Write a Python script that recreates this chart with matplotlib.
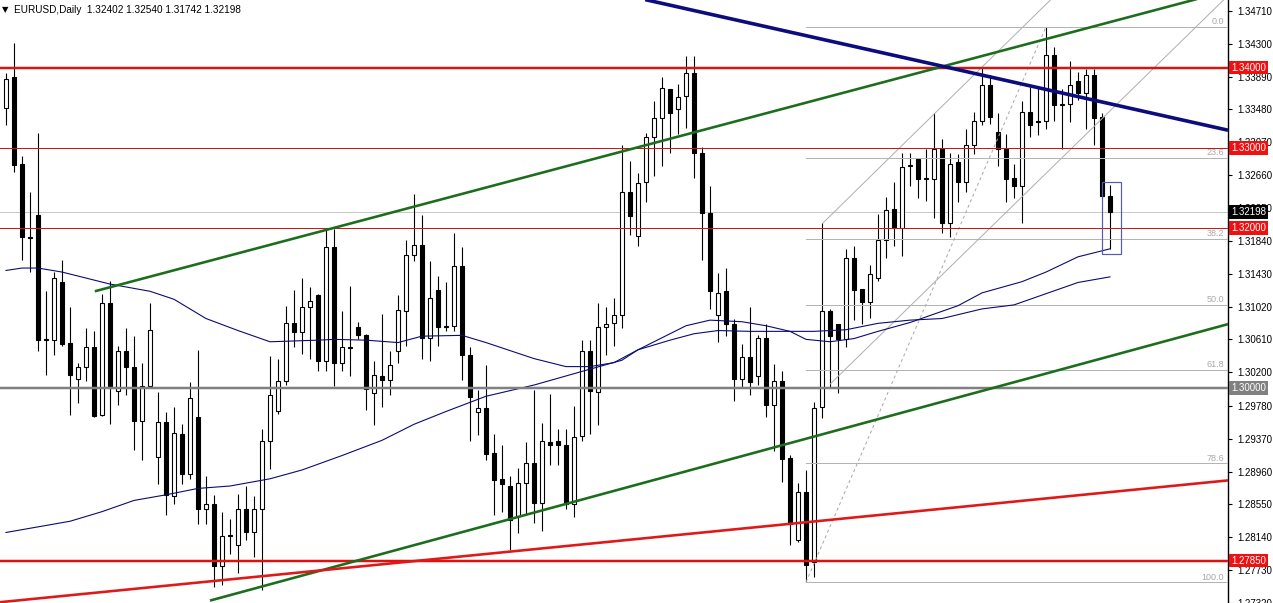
import matplotlib
matplotlib.use('Agg')
import matplotlib.pyplot as plt
from matplotlib.patches import Rectangle
from matplotlib.transforms import blended_transform_factory
import numpy as np

plt.rcParams['font.family'] = ['Liberation Sans', 'DejaVu Sans']

# ---- data ----
title = 'EURUSD,Daily  1.32402 1.32540 1.31742 1.32198'

opens = [
    1.3350, 1.3388, 1.3280, 1.3189, 1.3216, 1.3061, 1.3060, 1.3133, 1.3056, 1.3012,
    1.3026, 1.3051, 1.2967, 1.3107, 1.2996, 1.3046, 1.3027, 1.2959, 1.3003, 1.2914,
    1.2958, 1.2866, 1.2943, 1.2893, 1.2964, 1.2849, 1.2855, 1.2778, 1.2815, 1.2805,
    1.2849, 1.2820, 1.2849, 1.2934, 1.2971, 1.3009, 1.3082, 1.3070, 1.3101, 1.3116,
    1.3034, 1.3176, 1.3031, 1.3051, 1.3077, 1.3066, 1.2994, 1.3015, 1.3010, 1.3047,
    1.3097, 1.3166, 1.3179, 1.3063, 1.3122, 1.3076, 1.3078, 1.3153, 1.3042, 1.2970,
    1.2975, 1.2919, 1.2887, 1.2878, 1.2841, 1.2882, 1.2907, 1.2857, 1.2933, 1.2934,
    1.2929, 1.2855, 1.2940, 1.3047, 1.2995, 1.3076, 1.3081, 1.3092, 1.3245, 1.3190,
    1.3257, 1.3313, 1.3337, 1.3374, 1.3348, 1.3365, 1.3393, 1.3293, 1.3219, 1.3092,
    1.3121, 1.3080, 1.3011, 1.3039, 1.3015, 1.3063, 1.2979, 1.3009, 1.2913, 1.2810,
    1.2870, 1.2783, 1.2976, 1.3097, 1.3080, 1.3062, 1.3162, 1.3124, 1.3108, 1.3137,
    1.3185, 1.3224, 1.3200, 1.3277, 1.3286, 1.3261, 1.3261, 1.3299, 1.3206, 1.3282,
    1.3257, 1.3303, 1.3333, 1.3379, 1.3320, 1.3299, 1.3262, 1.3253, 1.3345, 1.3334,
    1.3333, 1.3416, 1.3354, 1.3355, 1.3384, 1.3368, 1.3391, 1.3339, 1.32402]

highs = [
    1.3394, 1.3431, 1.3290, 1.3245, 1.3318, 1.3121, 1.3145, 1.3160, 1.3101, 1.3031,
    1.3075, 1.3071, 1.3118, 1.3134, 1.3053, 1.3075, 1.3065, 1.3032, 1.3107, 1.2995,
    1.2970, 1.2976, 1.2955, 1.3008, 1.3048, 1.2890, 1.2867, 1.2845, 1.2837, 1.2868,
    1.2878, 1.2865, 1.2949, 1.3040, 1.3037, 1.3103, 1.3122, 1.3138, 1.3126, 1.3117,
    1.3199, 1.3199, 1.3096, 1.3128, 1.3083, 1.3068, 1.3034, 1.3093, 1.3047, 1.3116,
    1.3185, 1.3242, 1.3216, 1.3159, 1.3140, 1.3132, 1.3194, 1.3176, 1.3051, 1.2998,
    1.3029, 1.2943, 1.2929, 1.2890, 1.2901, 1.2933, 1.2998, 1.2957, 1.2993, 1.2949,
    1.2949, 1.2978, 1.3060, 1.3060, 1.3107, 1.3101, 1.3113, 1.3304, 1.3284, 1.3268,
    1.3318, 1.3359, 1.3389, 1.3374, 1.3380, 1.3415, 1.3415, 1.3301, 1.3253, 1.3144,
    1.3150, 1.3087, 1.3055, 1.3102, 1.3067, 1.3080, 1.3030, 1.3022, 1.2917, 1.2882,
    1.2898, 1.2983, 1.3206, 1.3099, 1.3080, 1.3174, 1.3178, 1.3124, 1.3154, 1.3217,
    1.3239, 1.3257, 1.3294, 1.3293, 1.3286, 1.3299, 1.3344, 1.3311, 1.3293, 1.3292,
    1.3323, 1.3345, 1.3400, 1.3391, 1.3343, 1.3317, 1.3280, 1.3359, 1.3376, 1.3375,
    1.3451, 1.3426, 1.3373, 1.3409, 1.3395, 1.3398, 1.3398, 1.3343, 1.32540]

lows = [
    1.3329, 1.3270, 1.3160, 1.3145, 1.3047, 1.3017, 1.3041, 1.3053, 1.2967, 1.2981,
    1.3009, 1.2964, 1.2965, 1.2955, 1.2979, 1.2991, 1.2923, 1.2911, 1.3001, 1.2881,
    1.2842, 1.2856, 1.2880, 1.2887, 1.2830, 1.2830, 1.2752, 1.2755, 1.2793, 1.2770,
    1.2810, 1.2789, 1.2748, 1.2899, 1.2968, 1.3004, 1.3052, 1.3043, 1.3036, 1.3021,
    1.3022, 1.3003, 1.3021, 1.3015, 1.3062, 1.2973, 1.2954, 1.2976, 1.2991, 1.3032,
    1.3053, 1.3159, 1.3036, 1.3034, 1.3053, 1.3071, 1.3071, 1.3010, 1.2934, 1.2942,
    1.2911, 1.2842, 1.2846, 1.2798, 1.2819, 1.2842, 1.2832, 1.2822, 1.2904, 1.2904,
    1.2849, 1.2839, 1.2934, 1.2943, 1.2954, 1.3042, 1.3053, 1.3075, 1.3191, 1.3178,
    1.3232, 1.3265, 1.3277, 1.3293, 1.3317, 1.3325, 1.3262, 1.3160, 1.3099, 1.3058,
    1.3065, 1.2984, 1.3000, 1.2991, 1.3004, 1.2964, 1.2922, 1.2883, 1.2805, 1.2808,
    1.2758, 1.2765, 1.2963, 1.3000, 1.2994, 1.3052, 1.3085, 1.3080, 1.3088, 1.3134,
    1.3162, 1.3178, 1.3165, 1.3252, 1.3237, 1.3234, 1.3212, 1.3194, 1.3189, 1.3232,
    1.3245, 1.3292, 1.3328, 1.3330, 1.3277, 1.3232, 1.3237, 1.3206, 1.3313, 1.3316,
    1.3323, 1.3333, 1.3298, 1.3332, 1.3360, 1.3323, 1.3303, 1.3238, 1.31742]

closes = [
    1.3386, 1.3278, 1.3189, 1.3188, 1.3060, 1.3060, 1.3138, 1.3055, 1.3017, 1.3026,
    1.3051, 1.2965, 1.3107, 1.3003, 1.3046, 1.3027, 1.2959, 1.3003, 1.3073, 1.2958,
    1.2867, 1.2944, 1.2893, 1.2988, 1.2849, 1.2855, 1.2778, 1.2815, 1.2817, 1.2849,
    1.2820, 1.2849, 1.2934, 1.2991, 1.3009, 1.3082, 1.3070, 1.3101, 1.3109, 1.3034,
    1.3176, 1.3031, 1.3051, 1.3050, 1.3066, 1.2999, 1.3016, 1.3010, 1.3029, 1.3098,
    1.3166, 1.3179, 1.3063, 1.3113, 1.3076, 1.3078, 1.3152, 1.3041, 1.2989, 1.2975,
    1.2918, 1.2886, 1.2881, 1.2836, 1.2882, 1.2907, 1.2857, 1.2934, 1.2929, 1.2929,
    1.2856, 1.2939, 1.3047, 1.2996, 1.3076, 1.3080, 1.3092, 1.3245, 1.3215, 1.3256,
    1.3313, 1.3337, 1.3375, 1.3344, 1.3364, 1.3393, 1.3293, 1.3219, 1.3121, 1.3119,
    1.3080, 1.3011, 1.3039, 1.3008, 1.3063, 1.2979, 1.3009, 1.2912, 1.2830, 1.2871,
    1.2780, 1.2975, 1.3097, 1.3065, 1.3062, 1.3162, 1.3123, 1.3108, 1.3142, 1.3185,
    1.3222, 1.3200, 1.3276, 1.3278, 1.3261, 1.3262, 1.3299, 1.3206, 1.3280, 1.3257,
    1.3303, 1.3333, 1.3379, 1.3338, 1.3299, 1.3261, 1.3253, 1.3345, 1.3328, 1.3332,
    1.3416, 1.3354, 1.3355, 1.3379, 1.3368, 1.3391, 1.3337, 1.3240, 1.32198]

# moving averages (bar index, value)
ma_fast_idx = [0, 2, 4, 7, 13, 18, 21, 25, 29, 33, 39, 41, 45, 49, 52, 57, 60, 66, 70,
               73, 76, 79, 82, 85, 88, 92, 95, 98, 100, 103, 106, 109, 113, 119, 122,
               127, 130, 134, 138]
ma_fast = [1.3147, 1.3150, 1.3150, 1.3145, 1.3130, 1.3121, 1.3111, 1.3087, 1.3072,
           1.3058, 1.3060, 1.3061, 1.3060, 1.3057, 1.3065, 1.3066, 1.3057, 1.3037,
           1.3027, 1.3027, 1.3032, 1.3048, 1.3063, 1.3078, 1.3085, 1.3083, 1.3078,
           1.3071, 1.3061, 1.3058, 1.3062, 1.3071, 1.3082, 1.3103, 1.3119, 1.3133,
           1.3145, 1.3164, 1.3174]
ma_slow_idx = [0, 8, 12, 16, 20, 24, 28, 33, 37, 42, 47, 51, 55, 60, 66, 72, 77, 79,
               83, 86, 89, 93, 97, 101, 105, 109, 113, 117, 122, 126, 130, 134, 138]
ma_slow = [1.2820, 1.2834, 1.2846, 1.2860, 1.2867, 1.2875, 1.2878, 1.2887, 1.2898,
           1.2916, 1.2935, 1.2955, 1.2971, 1.2990, 1.3004, 1.3021, 1.3035, 1.3048,
           1.3060, 1.3068, 1.3072, 1.3071, 1.3071, 1.3071, 1.3073, 1.3081, 1.3085,
           1.3087, 1.3099, 1.3104, 1.3118, 1.3132, 1.3139]

# horizontal levels: price, colour, width (px)
h_levels = [1.3400, 1.3300, 1.3200, 1.3000, 1.2785]
h_colors = ['#d01818', '#c81818', '#c81818', '#808080', '#e01010']
h_widths = [2.5, 1.0, 1.0, 2.5, 2.5]
h_label_bg = ['#f01010', '#f01010', '#f01010', '#808080', '#f01010']

# trend lines as (bar, price) anchors, extended to the right edge
green_upper = [(11.1, 1.3121), (148.6, 1.3485)]
green_lower = [(25.5, 1.2735), (152.75, 1.3080)]
red_rising = [(-0.75, 1.2733), (152.75, 1.2885)]
navy_falling = [(79.9, 1.3485), (152.75, 1.3322)]
channel_a = [(102.1, 1.3206), (130.6, 1.3485)]
channel_b = [(103.0, 1.3005), (152.25, 1.3485)]

# fibonacci retracement
fib_low = (100, 1.2758)
fib_high = (130, 1.3451)
fib_ratios = [0.0, 23.6, 38.2, 50.0, 61.8, 78.6, 100.0]

ticks = [1.34710, 1.34300, 1.33890, 1.33480, 1.33070, 1.32660, 1.32250, 1.31840,
         1.31430, 1.31020, 1.30610, 1.30200, 1.29780, 1.29370, 1.28960, 1.28550,
         1.28140, 1.27730, 1.27320]

last_price = closes[-1]
x_min, x_max = -0.75, 152.75
y_min, y_max = 1.27354, 1.34845
PX = 0.72  # one pixel in points

fig = plt.figure(figsize=(12.73, 6.03), dpi=100)
ax = fig.add_axes([0, 0, 1228 / 1273, 1])
ax.set_xlim(x_min, x_max)
ax.set_ylim(y_min, y_max)

o = np.array(opens)
h = np.array(highs)
l = np.array(lows)
c = np.array(closes)
x = np.arange(len(o))

# candles
ax.vlines(x, l, h, color='black', lw=PX * 1.1, zorder=2)
body_lo = np.minimum(o, c)
body_h = np.maximum(np.abs(c - o), 0.00003)
fill = ['white' if cc >= oo else 'black' for oo, cc in zip(o, c)]
ax.bar(x, body_h, bottom=body_lo, width=0.62, color=fill, edgecolor='black',
       linewidth=PX * 1.1, zorder=3)

# current price line
ax.axhline(last_price, color='#c8c8c8', lw=PX, zorder=1)

# moving averages
ax.plot(ma_fast_idx, ma_fast, color='#0a0a70', lw=PX * 1.1, zorder=5)
ax.plot(ma_slow_idx, ma_slow, color='#0a0a70', lw=PX * 1.1, zorder=5)

# horizontal levels
for lv, col, w in zip(h_levels, h_colors, h_widths):
    ax.axhline(lv, color=col, lw=PX * w, zorder=6)


def ray(pts, color, w, ls='-', z=6):
    (x0, y0), (x1, y1) = pts
    k = (y1 - y0) / (x1 - x0)
    ax.plot([x0, x_max], [y0, y0 + k * (x_max - x0)], color=color, lw=PX * w,
            ls=ls, zorder=z, solid_capstyle='butt')


ray(green_upper, '#1b6e1b', 2.6)
ray(green_lower, '#1b6e1b', 2.6)
ray(red_rising, '#e01818', 2.6)
ray(navy_falling, '#0c0c7c', 3.6)
ray(channel_a, '#b0b0b0', 1.0, z=4)
ray(channel_b, '#b0b0b0', 1.0, z=4)

# fibonacci
span = fib_high[1] - fib_low[1]
blend = blended_transform_factory(ax.transAxes, ax.transData)
for r in fib_ratios:
    lv = fib_high[1] - span * r / 100.0
    ax.plot([fib_low[0], x_max], [lv, lv], color='#b4b4b4', lw=PX, zorder=4)
    ax.text(0.997, lv + 0.00008, f'{r:.1f}', transform=blend, ha='right',
            va='bottom', fontsize=6.5, color='#a8a8a8', zorder=7)
ax.plot([fib_low[0], fib_high[0]], [fib_low[1], fib_high[1]], color='#a8a8a8',
        lw=PX, ls=(0, (3, 3)), zorder=4)

# box around the last bar
ax.add_patch(Rectangle((137.0, 1.3168), 2.4, 0.0090, fill=False,
                       edgecolor='#5a5aa8', lw=PX * 1.2, zorder=7))

# right price axis
for side in ['top', 'left', 'bottom']:
    ax.spines[side].set_visible(False)
ax.spines['right'].set_color('black')
ax.spines['right'].set_linewidth(1.0)
ax.set_xticks([])
ax.yaxis.tick_right()
ax.set_yticks(ticks)
ax.set_yticklabels([f'{t:.5f}' for t in ticks])
ax.tick_params(axis='y', length=3, width=0.8, pad=4, labelsize=7, colors='black')

for lv, bg in zip(h_levels, h_label_bg):
    ax.annotate(f'{lv:.5f}', xy=(1, lv), xycoords=('axes fraction', 'data'),
                xytext=(2.2, 0), textcoords='offset points', ha='left', va='center',
                fontsize=7, color='white', annotation_clip=False, zorder=20,
                bbox=dict(boxstyle='square,pad=0.18', fc=bg, ec='none'))
ax.annotate(f'{last_price:.5f}', xy=(1, last_price), xycoords=('axes fraction', 'data'),
            xytext=(2.2, 0), textcoords='offset points', ha='left', va='center',
            fontsize=7, color='white', annotation_clip=False, zorder=21,
            bbox=dict(boxstyle='square,pad=0.18', fc='black', ec='none'))

# header
fig.text(2 / 1273, 1 - 10 / 603, '\u25bc', fontsize=6, color='black',
         va='center', ha='left', family=['DejaVu Sans'])
fig.text(14 / 1273, 1 - 10 / 603, title, fontsize=7.2, color='black',
         va='center', ha='left')

fig.savefig('out.png', dpi=100)
